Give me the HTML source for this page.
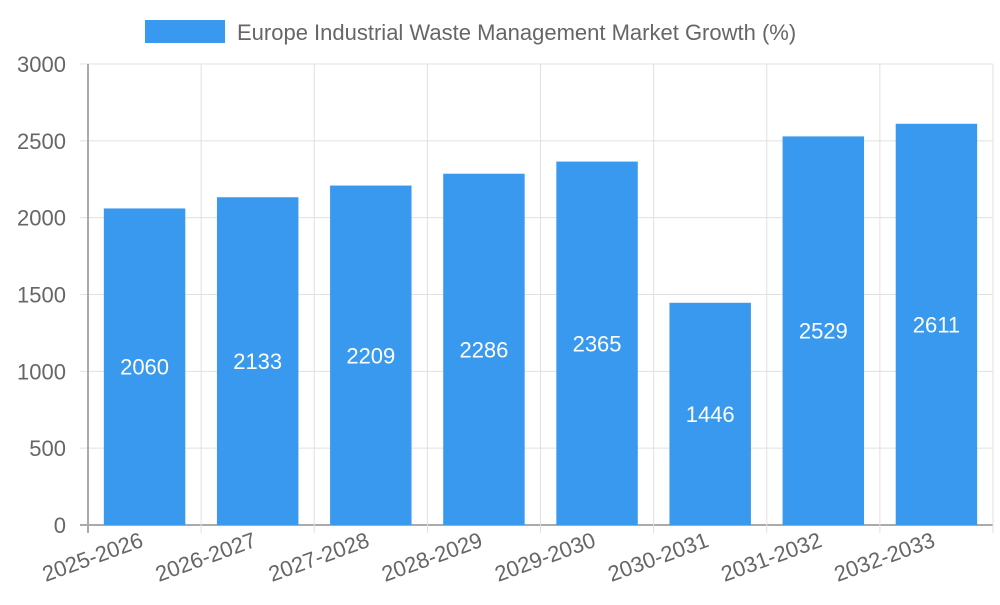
<!DOCTYPE html>
<html><head><meta charset="utf-8"><style>body{margin:0;background:#fff}svg{font-family:"Liberation Sans",sans-serif}</style></head>
<body>
<svg id="chart" width="1000" height="600">
<g id="grid"></g><g id="bars"></g><g id="labels"></g>
<rect x="145" y="20" width="80" height="23" fill="#3899ee"/>
<text x="237" y="40" font-size="22" fill="#666">Europe Industrial Waste Management Market Growth (%)</text>
</svg>
<script>
const categories=["2025-2026","2026-2027","2027-2028","2028-2029","2029-2030","2030-2031","2031-2032","2032-2033"];
const values=[2060,2133,2209,2286,2365,1446,2529,2611];
const yTicks=[0,500,1000,1500,2000,2500,3000];
const NS="http://www.w3.org/2000/svg";
const x0=88,x1=993,y0=525,yTop=64,ymax=3000;
const bw=(x1-x0)/categories.length;
const y=v=>y0-(v/ymax)*(y0-yTop);
const xc=i=>x0+bw*(i+0.5);
function mk(tag,attrs,parent,txt){const e=document.createElementNS(NS,tag);for(const k in attrs)e.setAttribute(k,attrs[k]);if(txt!=null)e.textContent=txt;document.getElementById(parent).appendChild(e);return e;}
yTicks.forEach(t=>{
 const l=mk('line',{x1:x0-8,x2:x1,y1:y(t),y2:y(t),stroke:t===0?'#aaa':'#e0e0e0','stroke-width':t===0?2:1},'grid');
 
 
 const tx=mk('text',{x:x0-22,y:y(t)+8,'text-anchor':'end','font-size':22,fill:'#666'},'labels',t);
 
 
});
for(let i=0;i<=categories.length;i++){
 const gx=x0+bw*i;
 const l=mk('line',{x1:gx,x2:gx,y1:yTop,y2:y0+8,stroke:i===0?'#aaa':'#e0e0e0','stroke-width':i===0?2:1},'grid');
 
 
}
categories.forEach((c,i)=>{
 const w=bw*0.72;
 const r=mk('rect',{x:xc(i)-w/2,y:y(values[i]),width:w,height:y0-y(values[i]),fill:'#3899ee'},'bars');
 
 
 const v=mk('text',{x:xc(i),y:(y(values[i])+y0)/2+8,'text-anchor':'middle','font-size':22,fill:'#fff'},'labels',values[i]);
 
 
 const t=mk('text',{x:xc(i),y:546,'text-anchor':'end','font-size':22,fill:'#666',transform:`rotate(-20 ${xc(i)} 546)`},'labels',c);
 
 
});
</script>
</body></html>
